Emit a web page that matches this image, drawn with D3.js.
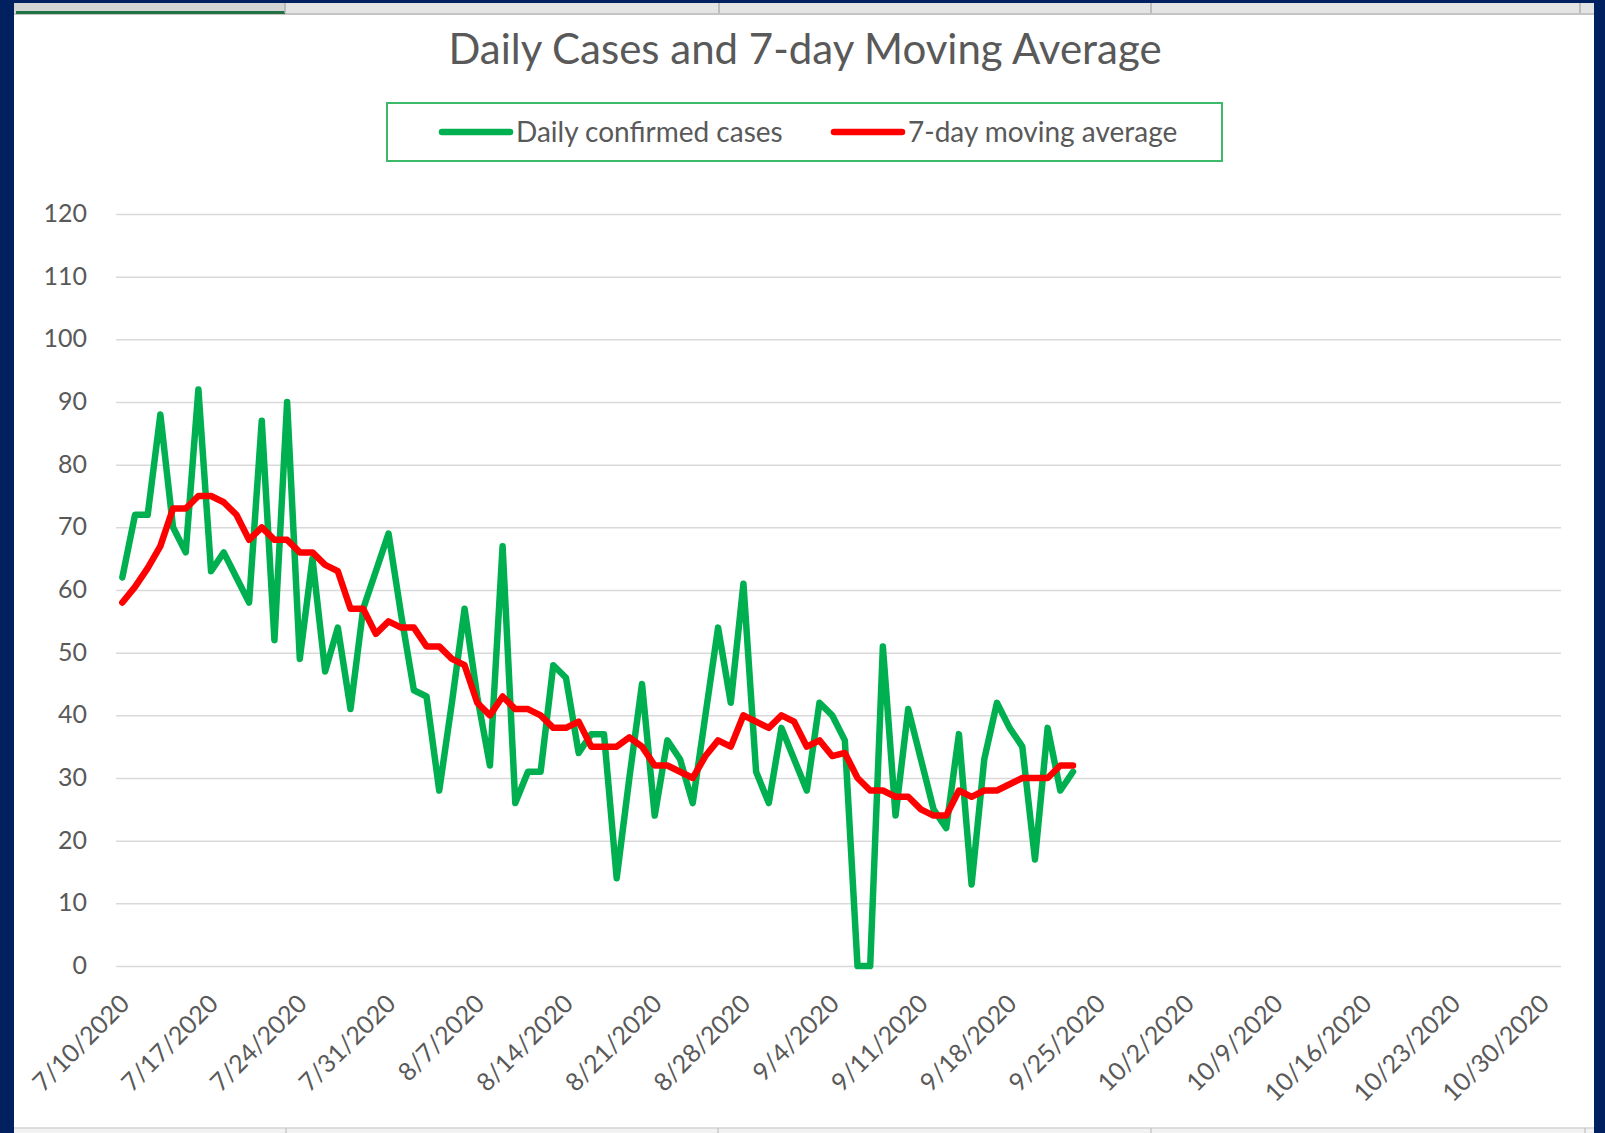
<!DOCTYPE html>
<html>
<head>
<meta charset="utf-8">
<script src="https://cdn.jsdelivr.net/npm/d3@7"></script>
<style>
body { margin: 0; background: #002060; }
svg { display: block; }
svg text { font-family: Lato, 'Open Sans', sans-serif; fill: #595959; }
</style>
</head>
<body>
<svg width="1605" height="1133"></svg>
<script>
var svg = d3.select('svg');
var width = +svg.attr('width');
var height = +svg.attr('height');

// values, one per day from 7/10/2020
var dailyCases = [62, 72, 72, 88, 70, 66, 92, 63, 66, 62,
	58, 87, 52, 90, 49, 65, 47, 54, 41, 57,
	63, 69, 56, 44, 43, 28, 42, 57, 43, 32,
	67, 26, 31, 31, 48, 46, 34, 37, 37, 14,
	30, 45, 24, 36, 33, 26, 40, 54, 42, 61,
	31, 26, 38, 33, 28, 42, 40, 36, 0, 0,
	51, 24, 41, 33, 25, 22, 37, 13, 33, 42,
	38, 35, 17, 38, 28, 31];

var movingAvg = [58, 60.5, 63.5, 67, 73, 73, 75, 75, 74, 72,
	68, 70, 68, 68, 66, 66, 64, 63, 57, 57,
	53, 55, 54, 54, 51, 51, 49, 48, 42, 40,
	43, 41, 41, 40, 38, 38, 39, 35, 35, 35,
	36.5, 35, 32, 32, 31, 30, 33.5, 36, 35, 40,
	39, 38, 40, 39, 35, 36, 33.5, 34, 30, 28,
	28, 27, 27, 25, 24, 24, 28, 27, 28, 28,
	29, 30, 30, 30, 32, 32];

var yTicks = [0, 10, 20, 30, 40, 50, 60, 70, 80, 90, 100, 110, 120];

var xTickLabels = ['7/10/2020', '7/17/2020', '7/24/2020', '7/31/2020', '8/7/2020',
	'8/14/2020', '8/21/2020', '8/28/2020', '9/4/2020', '9/11/2020', '9/18/2020',
	'9/25/2020', '10/2/2020', '10/9/2020', '10/16/2020', '10/23/2020', '10/30/2020'];

var seriesNames = ['Daily confirmed cases', '7-day moving average'];
var seriesColors = ['#00b050', '#ff0000'];

var axisStart = '7/10/2020';
var axisEnd = '10/31/2020';

var parseDate = d3.timeParse('%m/%d/%Y');
var firstDay = parseDate(axisStart);
var days = d3.timeDay.range(firstDay, d3.timeDay.offset(firstDay, dailyCases.length));

var plot = {l: 116, r: 1561, t: 214, b: 966};

// excel window frame
svg.append('rect').attr('x', 14).attr('y', 3).attr('width', 1580).attr('height', 1130).attr('fill', '#ffffff');
svg.append('rect').attr('x', 14).attr('y', 3).attr('width', 1580).attr('height', 11).attr('fill', '#e4e4e4');
svg.append('rect').attr('x', 14).attr('y', 3).attr('width', 271).attr('height', 11).attr('fill', '#d4d4d4');
svg.append('rect').attr('x', 14).attr('y', 13).attr('width', 1580).attr('height', 2).attr('fill', '#c4c4c4');
svg.append('rect').attr('x', 16).attr('y', 11).attr('width', 269).attr('height', 3).attr('fill', '#217346');
[285, 719, 1151, 1580].forEach(function(sx) {
	svg.append('line').attr('x1', sx).attr('x2', sx).attr('y1', 3).attr('y2', 13)
		.attr('stroke', '#b0b0b0').attr('stroke-width', 1.5);
});
svg.append('rect').attr('x', 14).attr('y', 1128).attr('width', 1580).attr('height', 5).attr('fill', '#f2f2f2');
svg.append('line').attr('x1', 14).attr('x2', 1594).attr('y1', 1128).attr('y2', 1128)
	.attr('stroke', '#d4d4d4').attr('stroke-width', 1.5);
[286, 718, 1151, 1585].forEach(function(sx) {
	svg.append('line').attr('x1', sx).attr('x2', sx).attr('y1', 1128).attr('y2', 1133)
		.attr('stroke', '#c8c8c8').attr('stroke-width', 1.5);
});

// scales
var xScale = d3.scaleTime()
	.domain([d3.timeHour.offset(firstDay, -12), d3.timeHour.offset(parseDate(axisEnd), 12)])
	.range([plot.l, plot.r]);

var yScale = d3.scaleLinear()
	.domain([0, 120])
	.range([plot.b, plot.t]);

// y axis + gridlines
var yAxis = svg.append('g')
	.attr('class', 'yaxis')
	.attr('transform', 'translate(' + [plot.l, 0] + ')')
	.call(d3.axisLeft(yScale).tickValues(yTicks).tickSize(-(plot.r - plot.l)).tickPadding(29));
yAxis.select('.domain').remove();
yAxis.selectAll('line').attr('stroke', '#d9d9d9').attr('stroke-width', 1.5);
yAxis.selectAll('text').style('font-size', '25px').attr('dy', '0.3em');

// x axis labels
var xAxis = svg.append('g')
	.attr('class', 'xaxis')
	.attr('transform', 'translate(' + [0, plot.b] + ')')
	.call(d3.axisBottom(xScale)
		.tickValues(xTickLabels.map(parseDate))
		.tickFormat(function(d, i) { return xTickLabels[i]; })
		.tickSize(0));
xAxis.select('.domain').remove();
xAxis.selectAll('text')
	.attr('x', 0).attr('y', 0).attr('dy', '0.35em')
	.attr('transform', 'translate(2,33) rotate(-45)')
	.style('text-anchor', 'end')
	.style('font-size', '25px');

// series
var line = d3.line()
	.x(function(d, i) { return xScale(days[i]); })
	.y(function(d) { return yScale(d); });

[dailyCases, movingAvg].forEach(function(values, k) {
	svg.append('path')
		.datum(values)
		.attr('d', line)
		.attr('fill', 'none')
		.attr('stroke', seriesColors[k])
		.attr('stroke-width', 6.5)
		.attr('stroke-linejoin', 'round')
		.attr('stroke-linecap', 'round');
});

// title
svg.append('text')
	.attr('x', 805).attr('y', 64)
	.attr('text-anchor', 'middle')
	.style('font-size', '42px')
	.text('Daily Cases and 7-day Moving Average');

// legend
var legend = svg.append('g').attr('class', 'legend');
legend.append('rect')
	.attr('x', 387).attr('y', 103).attr('width', 835).attr('height', 58)
	.attr('fill', '#ffffff').attr('stroke', '#3cba6a').attr('stroke-width', 2);

var items = legend.selectAll('.item')
	.data(seriesNames)
	.enter().append('g')
	.attr('class', 'item')
	.attr('transform', function(d, i) { return 'translate(' + [442 + i * 392, 132] + ')'; });
items.append('line')
	.attr('x1', 0).attr('x2', 68).attr('y1', 0).attr('y2', 0)
	.attr('stroke', function(d, i) { return seriesColors[i]; })
	.attr('stroke-width', 6.5)
	.attr('stroke-linecap', 'round');
items.append('text')
	.attr('x', 74).attr('y', 0).attr('dy', '0.35em')
	.style('font-size', '28px')
	.text(function(d) { return d; });
</script>
</body>
</html>
